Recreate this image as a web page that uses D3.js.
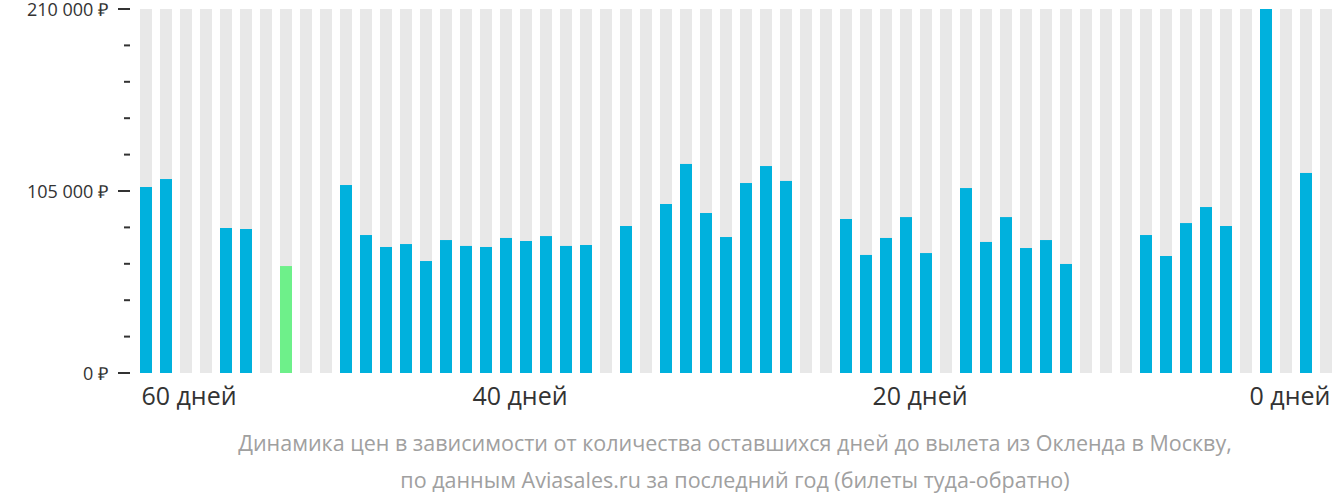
<!DOCTYPE html>
<html><head><meta charset="utf-8">
<script src="https://cdn.jsdelivr.net/npm/d3@7"></script>
<style>body{margin:0;background:#fff;font-family:"Open Sans",sans-serif}</style>
</head><body><svg id="c" width="1332" height="502"></svg>
<script>
const days = d3.range(59, -1, -1);
const prices = [107300,111900,null,null,83650,83070,null,61700,null,null,
108450,79600,72700,74400,64600,76700,73300,72700,77900,76150,
79000,73300,73850,null,84800,null,97500,120600,92300,78450,
109600,119400,110800,null,null,88850,68100,77900,89950,69200,
null,106700,75600,89950,72100,76700,62900,null,null,null,
79600,67500,86500,95750,84800,null,210000,null,115400,null];
const minDay = 52;
const yTicks = [0,105000,210000];
const xTickDays = [60,40,20,0];
const caption = ["Динамика цен в зависимости от количества оставшихся дней до вылета из Окленда в Москву,",
"по данным Aviasales.ru за последний год (билеты туда-обратно)"];

const svg = d3.select("#c");
const x = d3.scaleLinear().domain([59,0]).range([140,1320]);
const y = d3.scaleLinear().domain([0,210000]).range([373,9]);
const bw = 12;
svg.selectAll("rect.bg").data(days).join("rect")
 .attr("x",d=>x(d)).attr("y",9).attr("width",bw).attr("height",364).attr("fill","#e8e8e8");
svg.selectAll("rect.bar").data(days.map((d,i)=>({d,v:prices[i]})).filter(o=>o.v!=null)).join("rect")
 .attr("x",o=>x(o.d)).attr("y",o=>y(o.v)).attr("width",bw).attr("height",o=>373-y(o.v))
 .attr("fill",o=>o.d===minDay?"#6ef08a":"#00b1dd");
d3.range(0,11).forEach(i=>{
  const v=i*21000;
  svg.append("line").attr("x1",i%5===0?118:124).attr("x2",130).attr("y1",y(v)).attr("y2",y(v))
   .attr("stroke","#333").attr("stroke-width",2);
});
const fmt=v=>d3.format(",")(v).replace(/,/g," ")+" ₽";
svg.selectAll("text.yl").data(yTicks).join("text")
 .attr("x",108).attr("y",v=>y(v)+7).attr("text-anchor","end").attr("font-size",18).attr("fill","#333").text(fmt);
svg.selectAll("text.xl").data(xTickDays).join("text")
 .attr("x",d=>Math.max(189,Math.min(1290,x(d)))).attr("y",405).attr("text-anchor","middle")
 .attr("font-size",25).attr("fill","#333").text(d=>d+" дней");
caption.forEach((t,i)=>svg.append("text").attr("x",735).attr("y",451+i*37).attr("text-anchor","middle")
 .attr("font-size",21.5).attr("fill","#a0a0a0").text(t));
</script></body></html>
